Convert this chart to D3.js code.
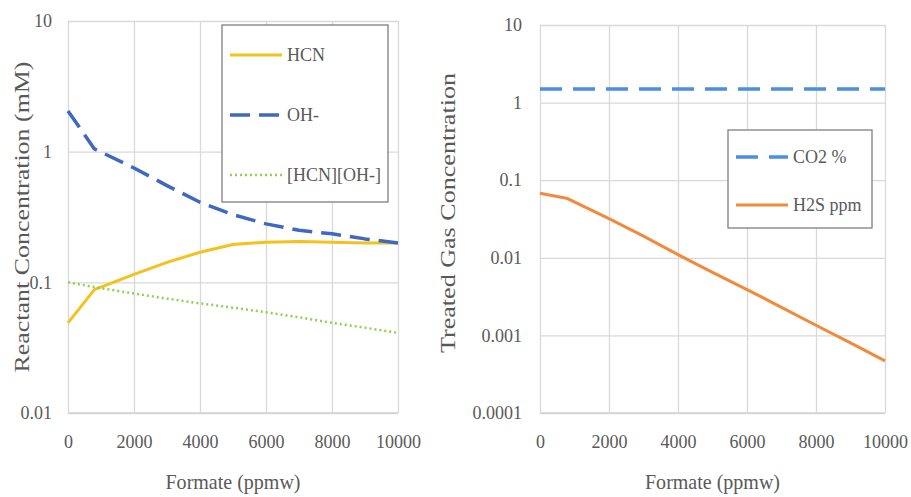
<!DOCTYPE html>
<html>
<head>
<meta charset="utf-8">
<script src="https://cdn.jsdelivr.net/npm/d3@7"></script>
<style>
  body { margin: 0; background: #fff; }
  svg text { font-family: "Times New Roman", Times, "Liberation Serif", "DejaVu Serif", serif !important; fill: #595959; }
</style>
</head>
<body>
<div id="chart"></div>
<script>
// x values (formate, ppmw)
const formate = [0, 800, 2000, 3000, 4000, 5000, 6000, 7000, 8000, 9000, 10000];

// left chart series (mM)
const hcn    = [0.049, 0.088, 0.115, 0.142, 0.17, 0.195, 0.203, 0.205, 0.203, 0.2, 0.2];
const oh     = [2.05, 1.05, 0.75, 0.55, 0.41, 0.33, 0.28, 0.25, 0.235, 0.215, 0.2];
const hcnOh  = [0.1, 0.092, 0.082, 0.075, 0.069, 0.064, 0.059, 0.054, 0.049, 0.045, 0.041];

// right chart series
const co2 = [1.5, 1.5, 1.5, 1.5, 1.5, 1.5, 1.5, 1.5, 1.5, 1.5, 1.5];
const h2s = [0.068, 0.058, 0.032, 0.019, 0.011, 0.0065, 0.0039, 0.0023, 0.00135, 0.0008, 0.00047];

const xTicks = [0, 2000, 4000, 6000, 8000, 10000];
const leftYTicks = [0.01, 0.1, 1, 10];
const rightYTicks = [0.0001, 0.001, 0.01, 0.1, 1, 10];

const serif = '"Times New Roman", Times, "Liberation Serif", "DejaVu Serif", serif';

const svg = d3.select('#chart').append('svg')
    .attr('width', 911)
    .attr('height', 497);

function drawPanel(opts) {
    const x = d3.scaleLinear().domain([0, 10000]).range([opts.left, opts.right]);
    const y = d3.scaleLog().domain(opts.yDomain).range([opts.bottom, opts.top]);
    const g = svg.append('g').attr('font-family', serif);

    // grid + tick labels
    g.append('g')
        .attr('transform', 'translate(0,' + opts.bottom + ')')
        .call(d3.axisBottom(x).tickValues(xTicks).tickSize(-(opts.bottom - opts.top)).tickFormat(d => d))
        .attr('font-family', serif)
        .call(a => a.select('.domain').remove())
        .call(a => a.selectAll('line').attr('stroke', '#d9d9d9').attr('stroke-width', 1.3))
        .call(a => a.selectAll('text').attr('dy', 0).attr('y', 35)
            .style('font-size', '18px').attr('fill', '#595959'));

    g.append('g')
        .attr('transform', 'translate(' + opts.left + ',0)')
        .call(d3.axisLeft(y).tickValues(opts.yTicks).tickSize(-(opts.right - opts.left)).tickFormat(d => String(d)))
        .attr('font-family', serif)
        .call(a => a.select('.domain').remove())
        .call(a => a.selectAll('line').attr('stroke', '#d9d9d9').attr('stroke-width', 1.3))
        .call(a => a.selectAll('text').attr('x', opts.yLabelX - opts.left)
            .style('font-size', '18px').attr('fill', '#595959'));

    // bottom axis line
    g.append('line')
        .attr('x1', opts.left).attr('x2', opts.right)
        .attr('y1', opts.bottom).attr('y2', opts.bottom)
        .attr('stroke', '#d0d0d0').attr('stroke-width', 1.5);

    // series
    const line = vals => d3.line()
        .x((d, i) => x(formate[i]))
        .y(d => y(d))(vals);

    opts.series.forEach(s => {
        g.append('path')
            .attr('d', line(s.values))
            .attr('fill', 'none')
            .attr('stroke', s.color)
            .attr('stroke-width', s.width)
            .attr('stroke-dasharray', s.dash || null)
            .attr('stroke-linejoin', 'round');
    });

    // axis titles
    g.append('text')
        .attr('x', (opts.left + opts.right) / 2)
        .attr('y', 489)
        .attr('text-anchor', 'middle')
        .attr('textLength', 135)
        .attr('lengthAdjust', 'spacingAndGlyphs')
        .style('font-size', '21px')
        .text('Formate (ppmw)');

    g.append('text')
        .attr('transform', 'translate(' + opts.titleX + ',' + opts.titleY + ') rotate(-90)')
        .attr('text-anchor', 'middle')
        .attr('textLength', opts.titleLen)
        .attr('lengthAdjust', 'spacingAndGlyphs')
        .style('font-size', '20px')
        .text(opts.yTitle);

    // legend
    const lg = opts.legend;
    g.append('rect')
        .attr('x', lg.x).attr('y', lg.y)
        .attr('width', lg.w).attr('height', lg.h)
        .attr('fill', '#fff')
        .attr('stroke', '#7f7f7f').attr('stroke-width', 1.3);

    opts.series.forEach((s, i) => {
        const ly = lg.y + lg.first + i * lg.step;
        g.append('line')
            .attr('x1', lg.x + 8).attr('x2', lg.x + 60)
            .attr('y1', ly).attr('y2', ly)
            .attr('stroke', s.color)
            .attr('stroke-width', s.width)
            .attr('stroke-dasharray', s.dash || null);
        g.append('text')
            .attr('x', lg.x + 65)
            .attr('y', ly + 6)
            .style('font-size', '18px')
            .text(s.name);
    });
}

drawPanel({
    left: 68, right: 398, top: 21, bottom: 413,
    yDomain: [0.01, 10], yTicks: leftYTicks, yLabelX: 52,
    titleX: 29, titleY: 217, titleLen: 311,
    yTitle: 'Reactant Concentration (mM)',
    series: [
        { name: 'HCN', values: hcn, color: '#f4c21c', width: 3 },
        { name: 'OH-', values: oh, color: '#3f68c0', width: 3.5, dash: '20,9' },
        { name: '[HCN][OH-]', values: hcnOh, color: '#92d050', width: 2.5, dash: '2,3' }
    ],
    legend: { x: 222, y: 25, w: 166, h: 177, first: 30, step: 60 }
});

drawPanel({
    left: 540, right: 885, top: 25, bottom: 413,
    yDomain: [0.0001, 10], yTicks: rightYTicks, yLabelX: 522,
    titleX: 455, titleY: 213, titleLen: 280,
    yTitle: 'Treated Gas Concentration',
    series: [
        { name: 'CO2 %', values: co2, color: '#4a8fe0', width: 3.5, dash: '22,11' },
        { name: 'H2S ppm', values: h2s, color: '#f08a3c', width: 3 }
    ],
    legend: { x: 728, y: 130, w: 144, h: 98, first: 27, step: 48 }
});
</script>
</body>
</html>
